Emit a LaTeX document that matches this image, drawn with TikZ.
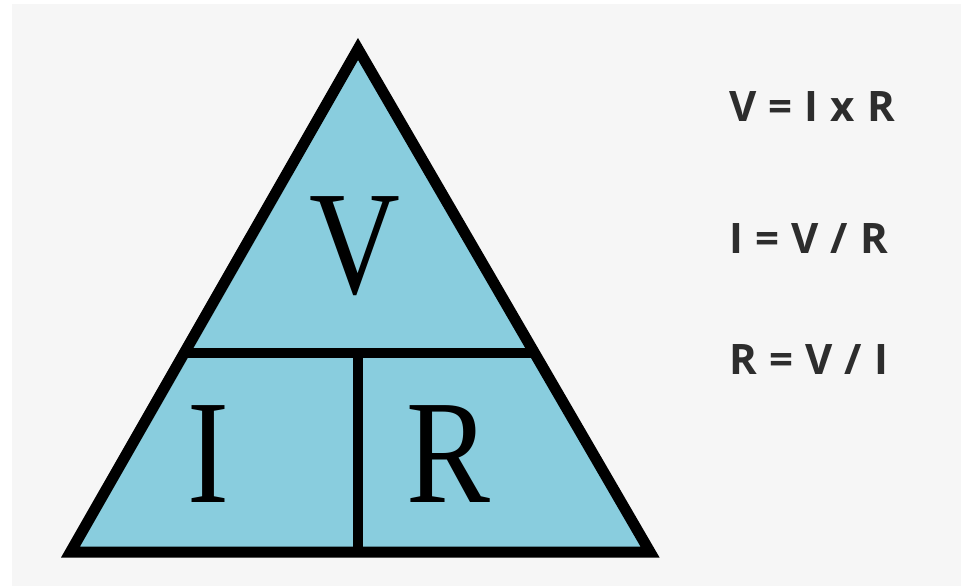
\documentclass[tikz,border=0pt]{standalone}
\usepackage{fontspec}
\setmainfont{Liberation Serif}
\newfontfamily\eqfont[LetterSpace=3]{Open Sans}
\usetikzlibrary{calc}
\definecolor{trifill}{RGB}{137,205,222}
\definecolor{bggray}{RGB}{246,246,246}
\definecolor{eqtext}{RGB}{45,45,45}
\tikzset{
  edge/.style={line width=11pt, line join=miter, miter limit=10},
  bar/.style={line width=10pt},
  bigletter/.style={inner sep=0pt, anchor=base, font=\fontsize{148}{148}\selectfont},
  eqline/.style={inner sep=0pt, anchor=base west, text=eqtext, font=\eqfont\bfseries\fontsize{42}{42}\selectfont}
}
\begin{document}
\begin{tikzpicture}[x=1pt,y=-1pt]
\useasboundingbox (0,0) rectangle (961,586);
\fill[white] (0,0) rectangle (961,586);
\fill[bggray] (12,4) rectangle (961,586);
\coordinate (A) at (358,49);
\coordinate (BL) at (70.5,552);
\coordinate (BR) at (650,552);
\coordinate (ML) at ($(BL)!0.3956!(A)$);
\coordinate (MR) at ($(BR)!0.3956!(A)$);
\coordinate (MT) at (358,353);
\coordinate (MB) at (358,552);
\fill[trifill] (A) -- (BL) -- (BR) -- cycle;
\draw[bar] (ML) -- (MR);
\draw[bar] (MT) -- (MB);
\draw[edge] (A) -- (BL) -- (BR) -- cycle;
\node[bigletter] (V) at (355,293) {\scalebox{0.85}[1]{V}};
\node[bigletter] (I) at (208,502) {\scalebox{0.85}[1]{I}};
\node[bigletter] (R) at (448,502) {\scalebox{0.85}[1]{R}};
\node[eqline] (e1) at (729,121) {V = I x R};
\node[eqline] (e2) at (729,253) {I = V / R};
\node[eqline] (e3) at (729,374) {R = V / I};
\end{tikzpicture}
\end{document}
